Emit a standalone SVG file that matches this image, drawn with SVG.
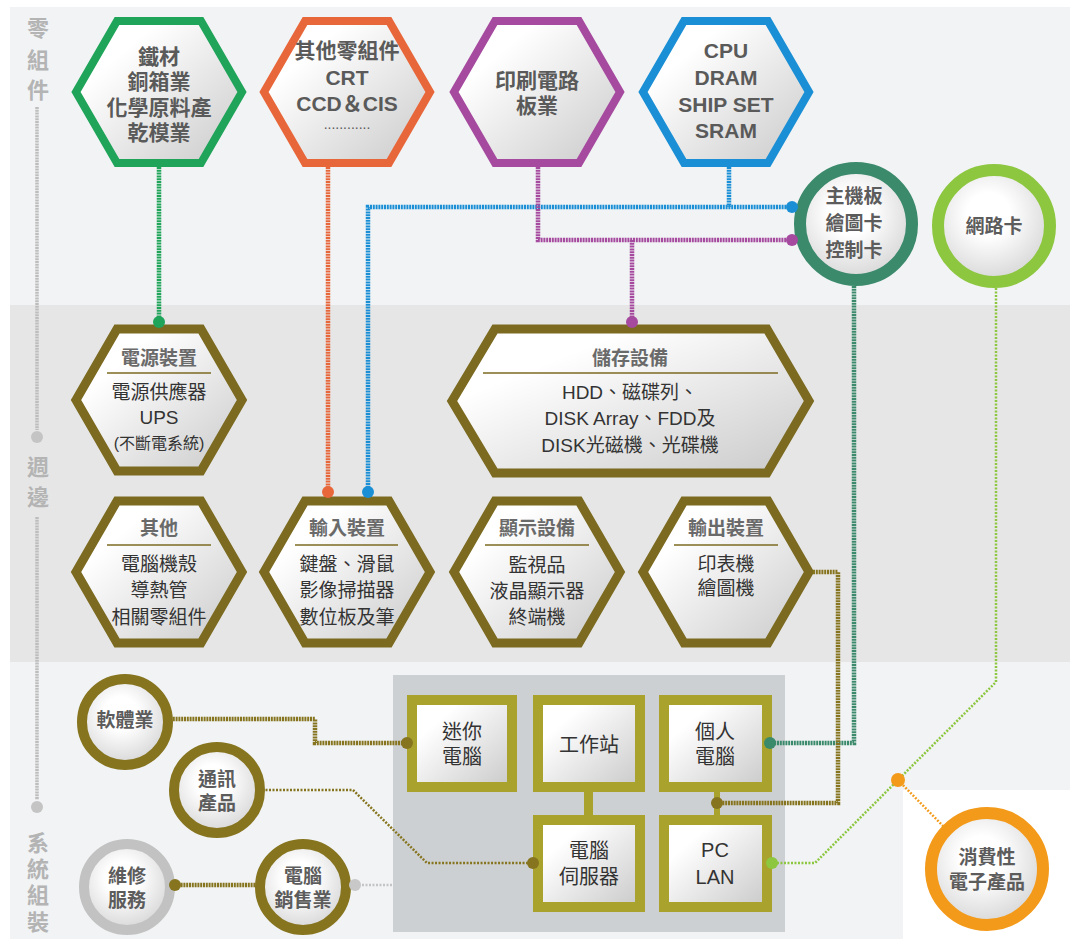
<svg xmlns="http://www.w3.org/2000/svg" width="1074" height="939" viewBox="0 0 1074 939">
<defs>
<linearGradient id="fillG" x1="0" y1="0" x2="1" y2="1">
<stop offset="0.25" stop-color="#ffffff"/>
<stop offset="1" stop-color="#c9c9c9"/>
</linearGradient>
<radialGradient id="circG" cx="0.45" cy="0.4" r="0.65">
<stop offset="0.3" stop-color="#ffffff"/>
<stop offset="1" stop-color="#d2d2d2"/>
</radialGradient>
<style>
text{font-family:"Liberation Sans","Noto Sans CJK TC","Noto Sans CJK SC",sans-serif;text-anchor:middle;dominant-baseline:central}
.top{font-size:21px;font-weight:bold;fill:#5a5a5a}
.ttl{font-size:19px;font-weight:bold;fill:#6a6a6a}
.body{font-size:19px;fill:#333333}
.small{font-size:16px;fill:#333333}
.circ{font-size:19px;font-weight:bold;fill:#5c5c5c}
.box{font-size:20px;fill:#333333}
.axis{font-size:22px;fill:#b4b4b4;font-weight:bold}
.hexM{fill:url(#fillG);stroke:#7b6a20;stroke-width:9;stroke-linejoin:miter}
.div{stroke:#7b6a20;stroke-width:1.5}
.bx{fill:url(#fillG);stroke:#a9a22c;stroke-width:10}
.c{fill:none;stroke-width:4.5;stroke-dasharray:2 0.8}
.ct{fill:none;stroke-width:2.5;stroke-dasharray:2 1.5}
</style>
</defs>

<g id="background">
<rect x="10" y="7" width="1060" height="932" fill="#f1f3f4"/>
<rect x="10" y="305" width="1060" height="357" fill="#e6e6e6"/>
<rect x="903" y="790" width="171" height="149" fill="#ffffff"/>
<rect x="393" y="675" width="392" height="257" fill="#cdd0d2"/>
</g>

<g id="axis">
<text class="axis" x="38" y="28">零</text>
<text class="axis" x="38" y="60">組</text>
<text class="axis" x="38" y="90">件</text>
<line x1="37" y1="107" x2="37" y2="430" stroke="#bdbdbd" stroke-width="3.5" stroke-dasharray="2 0.8"/>
<circle cx="37" cy="437" r="6" fill="#c4c4c4"/>
<text class="axis" x="38" y="467">週</text>
<text class="axis" x="38" y="497">邊</text>
<line x1="37" y1="517" x2="37" y2="800" stroke="#bdbdbd" stroke-width="3.5" stroke-dasharray="2 0.8"/>
<circle cx="37" cy="807" r="6" fill="#c4c4c4"/>
<text class="axis" x="38" y="843">系</text>
<text class="axis" x="38" y="869">統</text>
<text class="axis" x="38" y="895">組</text>
<text class="axis" x="38" y="922">裝</text>
</g>

<g id="n-iron">
<polygon points="76,92 117,21 201,21 242,92 201,163 117,163" fill="url(#fillG)" stroke="#1fa45a" stroke-width="8"/>
<text class="top" x="159" y="56">鐵材</text>
<text class="top" x="159" y="81">銅箱業</text>
<text class="top" x="159" y="107">化學原料產</text>
<text class="top" x="159" y="132">乾模業</text>
</g>
<g id="n-other-parts">
<polygon points="264,92 305,21 389,21 430,92 389,163 305,163" fill="url(#fillG)" stroke="#e8673a" stroke-width="8"/>
<text class="top" x="347" y="50">其他零組件</text>
<text class="top" x="347" y="77">CRT</text>
<text class="top" x="347" y="103">CCD＆CIS</text>
<text class="top" x="347" y="124" style="font-size:14px;font-weight:normal">............</text>
</g>
<g id="n-pcb">
<polygon points="454,92 495,21 579,21 620,92 579,163 495,163" fill="url(#fillG)" stroke="#a54a9e" stroke-width="8"/>
<text class="top" x="537" y="80">印刷電路</text>
<text class="top" x="537" y="105">板業</text>
</g>
<g id="n-cpu">
<polygon points="643,92 684,21 768,21 809,92 768,163 684,163" fill="url(#fillG)" stroke="#1b8fd6" stroke-width="8"/>
<text class="top" x="726" y="50">CPU</text>
<text class="top" x="726" y="77">DRAM</text>
<text class="top" x="726" y="104">SHIP SET</text>
<text class="top" x="726" y="130">SRAM</text>
</g>
<g id="n-mainboard">
<circle cx="856" cy="224" r="56" fill="url(#circG)" stroke="#3b8a6c" stroke-width="12"/>
<text class="circ" x="854" y="196">主機板</text>
<text class="circ" x="854" y="223">繪圖卡</text>
<text class="circ" x="854" y="250">控制卡</text>
</g>
<g id="n-netcard">
<circle cx="994" cy="226" r="56" fill="url(#circG)" stroke="#8dc63f" stroke-width="12"/>
<text class="circ" x="994" y="226">網路卡</text>
</g>

<g id="n-power">
<polygon class="hexM" points="76,400 117,329 201,329 242,400 201,471 117,471"/>
<text class="ttl" x="159" y="358">電源裝置</text>
<line class="div" x1="107" y1="373" x2="211" y2="373"/>
<text class="body" x="159" y="392">電源供應器</text>
<text class="body" x="159" y="417">UPS</text>
<text class="small" x="159" y="443">(不斷電系統)</text>
</g>
<g id="n-storage">
<polygon class="hexM" points="452,401 495,329 767,329 809,401 767,473 495,473"/>
<text class="ttl" x="630" y="358">儲存設備</text>
<line class="div" x1="483" y1="373" x2="778" y2="373"/>
<text class="body" x="630" y="392">HDD、磁碟列、</text>
<text class="body" x="630" y="418">DISK Array、FDD及</text>
<text class="body" x="630" y="445">DISK光磁機、光碟機</text>
</g>
<g id="n-others">
<polygon class="hexM" points="76,572 117,501 201,501 242,572 201,643 117,643"/>
<text class="ttl" x="159" y="528">其他</text>
<line class="div" x1="107" y1="545" x2="211" y2="545"/>
<text class="body" x="159" y="564">電腦機殼</text>
<text class="body" x="159" y="590">導熱管</text>
<text class="body" x="159" y="617">相關零組件</text>
</g>
<g id="n-input">
<polygon class="hexM" points="264,572 305,501 389,501 430,572 389,643 305,643"/>
<text class="ttl" x="347" y="528">輸入裝置</text>
<line class="div" x1="295" y1="545" x2="398" y2="545"/>
<text class="body" x="347" y="564">鍵盤、滑鼠</text>
<text class="body" x="347" y="590">影像掃描器</text>
<text class="body" x="347" y="617">數位板及筆</text>
</g>
<g id="n-display">
<polygon class="hexM" points="454,572 495,501 579,501 620,572 579,643 495,643"/>
<text class="ttl" x="537" y="528">顯示設備</text>
<line class="div" x1="485" y1="545" x2="589" y2="545"/>
<text class="body" x="537" y="565">監視品</text>
<text class="body" x="537" y="591">液晶顯示器</text>
<text class="body" x="537" y="617">終端機</text>
</g>
<g id="n-output">
<polygon class="hexM" points="643,572 684,501 768,501 809,572 768,643 684,643"/>
<text class="ttl" x="726" y="528">輸出裝置</text>
<line class="div" x1="674" y1="545" x2="778" y2="545"/>
<text class="body" x="726" y="564">印表機</text>
<text class="body" x="726" y="588">繪圖機</text>
</g>

<g id="n-software">
<circle cx="125" cy="722" r="43" fill="url(#circG)" stroke="#86741f" stroke-width="10"/>
<text class="circ" x="125" y="720">軟體業</text>
</g>
<g id="n-telecom">
<circle cx="217" cy="790" r="43" fill="url(#circG)" stroke="#86741f" stroke-width="10"/>
<text class="circ" x="217" y="779">通訊</text>
<text class="circ" x="217" y="803">產品</text>
</g>
<g id="n-repair">
<circle cx="127" cy="887" r="43" fill="url(#circG)" stroke="#c2c2c2" stroke-width="10"/>
<text class="circ" x="127" y="876">維修</text>
<text class="circ" x="127" y="900">服務</text>
</g>
<g id="n-sales">
<circle cx="303" cy="887" r="43" fill="url(#circG)" stroke="#86741f" stroke-width="10"/>
<text class="circ" x="303" y="876">電腦</text>
<text class="circ" x="303" y="900">銷售業</text>
</g>
<g id="n-consumer">
<circle cx="987" cy="869" r="56" fill="url(#circG)" stroke="#f39a1a" stroke-width="12"/>
<text class="circ" x="987" y="857">消費性</text>
<text class="circ" x="987" y="882">電子產品</text>
</g>

<g id="n-mini">
<rect class="bx" x="412" y="700" width="100" height="87"/>
<text class="box" x="462" y="732">迷你</text>
<text class="box" x="462" y="757">電腦</text>
</g>
<g id="n-workstation">
<rect class="bx" x="538" y="700" width="102" height="87"/>
<text class="box" x="589" y="745">工作站</text>
</g>
<g id="n-pc">
<rect class="bx" x="664" y="700" width="103" height="87"/>
<text class="box" x="715" y="732">個人</text>
<text class="box" x="715" y="757">電腦</text>
</g>
<g id="n-server">
<rect class="bx" x="538" y="820" width="102" height="87"/>
<text class="box" x="589" y="851">電腦</text>
<text class="box" x="589" y="877">伺服器</text>
</g>
<g id="n-pclan">
<rect class="bx" x="664" y="820" width="103" height="87"/>
<text class="box" x="715" y="850">PC</text>
<text class="box" x="715" y="877">LAN</text>
</g>

<g id="connectors">
<rect x="584" y="792" width="9" height="23" fill="#a9a22c"/>
<rect x="714" y="792" width="6" height="23" fill="#a9a22c"/>
<path class="c" d="M159,167 V322" stroke="#1fa45a"/>
<circle cx="159" cy="322" r="6" fill="#1fa45a"/>
<path class="c" d="M328,167 V492" stroke="#e8673a"/>
<circle cx="328" cy="492" r="6" fill="#e8673a"/>
<path class="c" d="M729,167 V207" stroke="#1b8fd6"/>
<path class="c" d="M792,207 H368 V492" stroke="#1b8fd6"/>
<circle cx="792" cy="207" r="6" fill="#1b8fd6"/>
<circle cx="368" cy="492" r="6" fill="#1b8fd6"/>
<path class="c" d="M538,167 V240 H792" stroke="#a54a9e"/>
<path class="c" d="M632,240 V322" stroke="#a54a9e"/>
<circle cx="792" cy="240" r="6" fill="#a54a9e"/>
<circle cx="632" cy="322" r="6" fill="#a54a9e"/>
<path class="c" d="M854,286 V743 H770" stroke="#3b8a6c"/>
<circle cx="770" cy="743" r="6" fill="#3b8a6c"/>
<path class="ct" d="M996,288 V682 L815,863 H772" stroke="#8dc63f"/>
<circle cx="772" cy="863" r="6" fill="#8dc63f"/>
<path class="ct" d="M898,780 L945,828" stroke="#f39a1a"/>
<circle cx="898" cy="780" r="7" fill="#f39a1a"/>
<path class="c" d="M813,572 H838 V803 H717" stroke="#86741f"/>
<circle cx="717" cy="803" r="6" fill="#86741f"/>
<path class="c" d="M170,719 H315 V743 H407" stroke="#86741f"/>
<circle cx="407" cy="743" r="6" fill="#86741f"/>
<path class="ct" d="M262,790 H353 L427,863 H533" stroke="#86741f"/>
<circle cx="533" cy="863" r="6" fill="#86741f"/>
<path class="c" d="M175,885 H258" stroke="#86741f"/>
<circle cx="175" cy="885" r="6" fill="#86741f"/>
<path class="ct" d="M355,885 H393" stroke="#c4c4c4"/>
<circle cx="355" cy="885" r="6" fill="#c8c8c8"/>
</g>
</svg>
